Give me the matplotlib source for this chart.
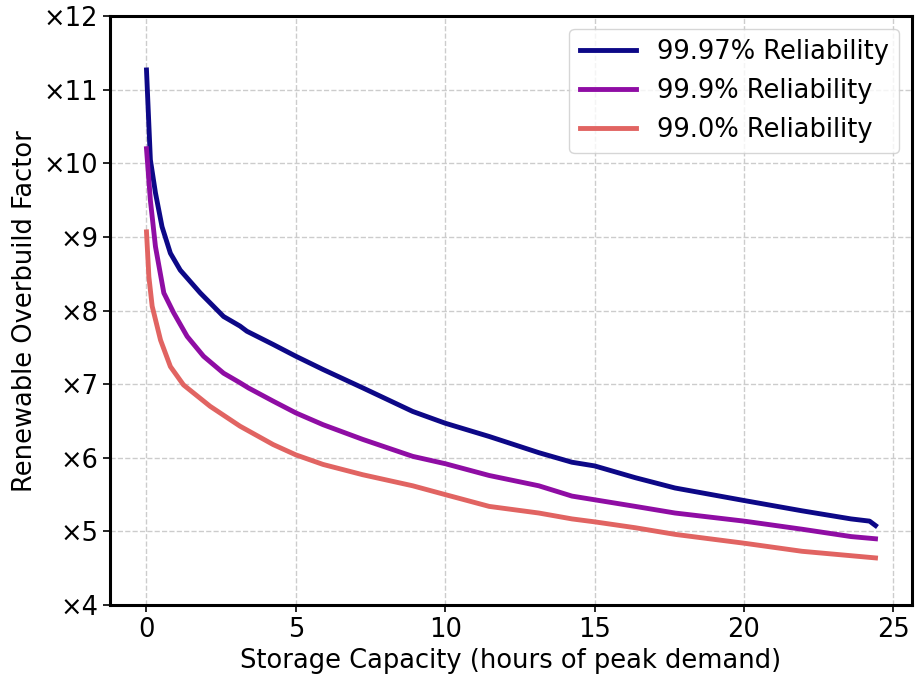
import numpy as np
import matplotlib
matplotlib.use("Agg")
import matplotlib.pyplot as plt
from matplotlib.ticker import FuncFormatter

# Values (storage hours -> overbuild factor)
x_9997 = [0, 0.13, 0.3, 0.52, 0.8, 1.13, 1.8, 2.58, 3.13, 3.36, 4.24, 5.0, 5.91,
          7.24, 8.91, 10.0, 11.47, 13.13, 14.24, 15.0, 16.36, 17.69, 20.0,
          21.94, 23.58, 24.2, 24.4]
y_9997 = [11.27, 10.05, 9.6, 9.14, 8.78, 8.55, 8.24, 7.92, 7.79, 7.72, 7.54, 7.38, 7.2,
          6.95, 6.63, 6.47, 6.29, 6.07, 5.94, 5.89, 5.73, 5.59, 5.42,
          5.28, 5.17, 5.14, 5.08]

x_999 = [0, 0.13, 0.3, 0.58, 0.91, 1.36, 1.91, 2.58, 3.13, 3.41, 4.24, 5.0, 5.91,
         7.24, 8.91, 10.0, 11.47, 13.13, 14.24, 15.0, 16.36, 17.69, 20.0,
         21.94, 23.58, 24.4]
y_999 = [10.2, 9.5, 8.87, 8.24, 7.97, 7.65, 7.38, 7.15, 7.02, 6.95, 6.77, 6.61, 6.45,
         6.25, 6.02, 5.92, 5.76, 5.62, 5.48, 5.43, 5.34, 5.25, 5.14,
         5.03, 4.93, 4.9]

x_990 = [0, 0.08, 0.19, 0.47, 0.8, 1.24, 2.13, 3.13, 4.24, 5.0, 5.91, 7.24, 8.91,
         10.0, 11.47, 13.13, 14.24, 15.0, 16.36, 17.69, 20.0, 21.94, 23.58, 24.4]
y_990 = [9.07, 8.46, 8.06, 7.6, 7.24, 6.99, 6.7, 6.43, 6.18, 6.04, 5.91, 5.77, 5.62,
         5.5, 5.34, 5.25, 5.17, 5.13, 5.05, 4.96, 4.84, 4.73, 4.67, 4.64]

labels = ["99.97% Reliability", "99.9% Reliability", "99.0% Reliability"]
colors = plt.cm.plasma([0.0, 0.3, 0.6])

FS = 18.5

fig, ax = plt.subplots(figsize=(9.17, 6.76), dpi=100)
fig.subplots_adjust(left=0.12, right=0.9945, top=0.976, bottom=0.105)

for xs, ys, lab, c in zip([x_9997, x_999, x_990], [y_9997, y_999, y_990], labels, colors):
    ax.plot(xs, ys, color=c, linewidth=3.5, label=lab)

ax.set_ylim(4, 12)
ax.yaxis.set_major_formatter(FuncFormatter(lambda v, p: "\u00d7%d" % v))
ax.tick_params(labelsize=FS, width=1.2, length=5)
ax.set_xlabel("Storage Capacity (hours of peak demand)", fontsize=FS)
ax.set_ylabel("Renewable Overbuild Factor", fontsize=FS)
ax.grid(True, linestyle="--", color="#cccccc", linewidth=1)
for s in ax.spines.values():
    s.set_linewidth(2.2)

ax.legend(fontsize=FS, loc="upper right", handlelength=2.2)

plt.savefig("out.png", dpi=100)
